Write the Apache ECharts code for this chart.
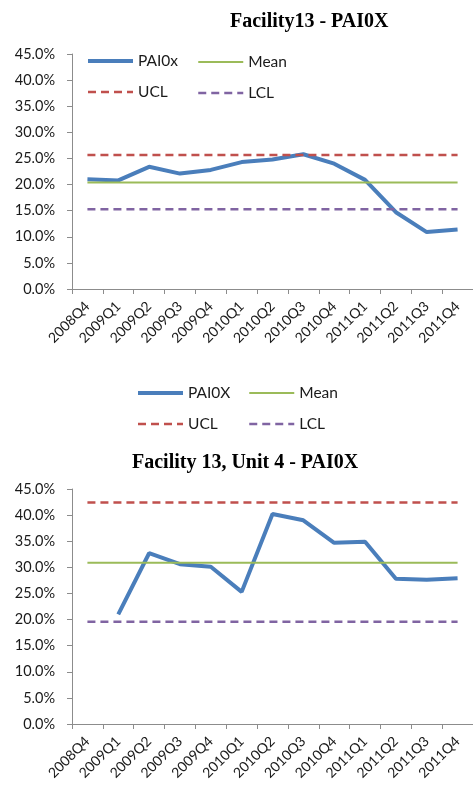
<!DOCTYPE html>
<html>
<head>
<meta charset="utf-8">
<script src="https://cdn.jsdelivr.net/npm/echarts@6/dist/echarts.min.js"></script>
<style>
html,body{margin:0;padding:0;background:#fff;overflow:hidden;}
#c{width:473px;height:788px;}
</style>
</head>
<body>
<div id="c"></div>
<script>
var categories = ['2008Q4','2009Q1','2009Q2','2009Q3','2009Q4','2010Q1','2010Q2','2010Q3','2010Q4','2011Q1','2011Q2','2011Q3','2011Q4'];
var yTicks = [0,5,10,15,20,25,30,35,40,45];

// Chart 1: Facility13 - PAI0X (percent)
var fac13 = [21.0,20.8,23.4,22.1,22.8,24.3,24.8,25.8,24.0,20.9,14.7,10.9,11.4];
var fac13Mean = 20.4;
var fac13UCL = 25.65;
var fac13LCL = 15.25;

// Chart 2: Facility 13, Unit 4 - PAI0X (percent)
var unit4 = [null,21.0,32.7,30.6,30.1,25.3,40.2,39.0,34.7,34.9,27.8,27.6,27.9];
var unit4Mean = 30.9;
var unit4UCL = 42.4;
var unit4LCL = 19.6;

function flat(v){ return categories.map(function(){ return v; }); }

var BLUE = '#4A7EBB', GREEN = '#9BBB59', RED = '#C0504D', PURPLE = '#8064A2';
var AXIS = '#8c8c8c';
var FONT = 'Lato';

function xAxis(gi){
  return {
    type:'category', gridIndex:gi, data:categories, boundaryGap:true,
    axisLine:{lineStyle:{color:AXIS,width:1}},
    axisTick:{show:true,length:5,lineStyle:{color:AXIS}},
    axisLabel:{rotate:45,color:'#1a1a1a',fontFamily:FONT,fontSize:14,margin:15,interval:0}
  };
}
function yAxis(gi){
  return {
    type:'value', gridIndex:gi, min:yTicks[0], max:yTicks[yTicks.length-1], interval:5,
    axisLine:{show:true,lineStyle:{color:AXIS,width:1}},
    axisTick:{show:true,length:5,lineStyle:{color:AXIS}},
    splitLine:{show:false},
    axisLabel:{color:'#1a1a1a',fontFamily:FONT,fontSize:14.5,margin:17,
      formatter:function(v){return v.toFixed(1)+'%';}}
  };
}
function line(name, data, gi, color, width, dashed, z){
  return {
    name:name, type:'line', xAxisIndex:gi, yAxisIndex:gi, data:data,
    symbol:'none', connectNulls:false, animation:false, z:z||2,
    lineStyle:{color:color,width:width,type:dashed?[8,5]:'solid'},
    itemStyle:{color:color}
  };
}
function legend(names, left, top){
  return {
    data:names, orient:'vertical', left:left, top:top, padding:0,
    itemWidth:45, itemHeight:14, itemGap:15, selectedMode:false,
    itemStyle:{opacity:0},
    lineStyle:{width:'inherit', type:'inherit'},
    textStyle:{fontFamily:FONT,fontSize:15.5,color:'#1a1a1a'}
  };
}

var chart = echarts.init(document.getElementById('c'), null, {renderer:'canvas'});
chart.setOption({
  animation:false,
  backgroundColor:'#fff',
  title:[
    {text:'Facility13 - PAI0X', left:230, top:12, padding:0,
     textStyle:{fontFamily:'Liberation Serif',fontWeight:'bold',fontSize:20,color:'#000'}},
    {text:'Facility 13, Unit 4 - PAI0X', left:132, top:453, padding:0,
     textStyle:{fontFamily:'Liberation Serif',fontWeight:'bold',fontSize:20,color:'#000'}}
  ],
  legend:[
    legend(['PAI0x','UCL'], 86, 53),
    legend(['Mean','LCL'], 197, 54),
    legend(['PAI0X','UCL'], 136, 385),
    legend(['Mean','LCL'], 248, 385)
  ],
  grid:[
    {left:72, top:54, width:411, height:235},
    {left:72, top:489, width:411, height:235}
  ],
  xAxis:[xAxis(0), xAxis(1)],
  yAxis:[yAxis(0), yAxis(1)],
  series:[
    line('PAI0x', fac13, 0, BLUE, 4, false, 2),
    line('Mean', flat(fac13Mean), 0, GREEN, 2, false, 3),
    line('UCL', flat(fac13UCL), 0, RED, 2.5, true, 3),
    line('LCL', flat(fac13LCL), 0, PURPLE, 2.5, true, 3),
    line('PAI0X', unit4, 1, BLUE, 4, false, 2),
    line('Mean', flat(unit4Mean), 1, GREEN, 2, false, 3),
    line('UCL', flat(unit4UCL), 1, RED, 2.5, true, 3),
    line('LCL', flat(unit4LCL), 1, PURPLE, 2.5, true, 3)
  ]
});
</script>
</body>
</html>
